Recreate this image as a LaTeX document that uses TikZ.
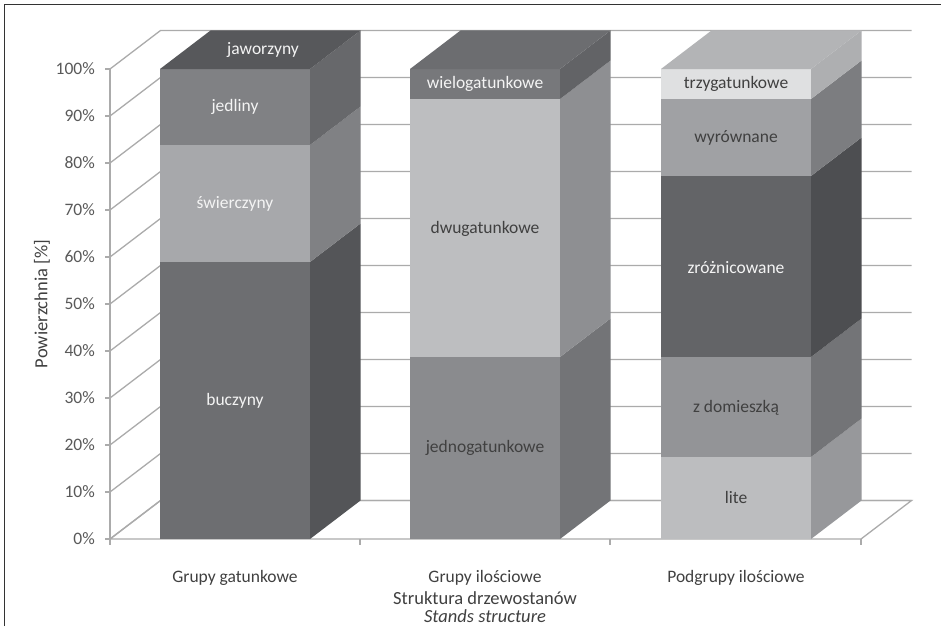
\documentclass[tikz,border=0pt]{standalone}
\usepackage{fontspec}
\setmainfont{Carlito}
\definecolor{gridc}{HTML}{ABABAB}
\definecolor{axtxt}{HTML}{595959}
\definecolor{darktxt}{HTML}{404040}
\definecolor{lighttxt}{HTML}{F4F4F4}
% bar 1
\definecolor{buczF}{HTML}{6D6E71}\definecolor{buczS}{HTML}{545558}
\definecolor{swieF}{HTML}{A7A8AB}\definecolor{swieS}{HTML}{808184}
\definecolor{jedlF}{HTML}{808184}\definecolor{jedlS}{HTML}{67686B}
\definecolor{jawoT}{HTML}{57585B}\definecolor{jawoS}{HTML}{5C5D60}
% bar 2
\definecolor{jednF}{HTML}{8A8B8E}\definecolor{jednS}{HTML}{737477}
\definecolor{dwugF}{HTML}{BDBEC0}\definecolor{dwugS}{HTML}{8E8F92}
\definecolor{wielF}{HTML}{77787B}\definecolor{wielS}{HTML}{626366}\definecolor{wielT}{HTML}{6C6D70}
% bar 3
\definecolor{liteF}{HTML}{BCBDBF}\definecolor{liteS}{HTML}{97989B}
\definecolor{zdomF}{HTML}{939497}\definecolor{zdomS}{HTML}{737477}
\definecolor{zrozF}{HTML}{636467}\definecolor{zrozS}{HTML}{4D4E51}
\definecolor{wyroF}{HTML}{A0A1A4}\definecolor{wyroS}{HTML}{7C7D80}
\definecolor{trzyF}{HTML}{DFE0E1}\definecolor{trzyS}{HTML}{AEAFB1}\definecolor{trzyT}{HTML}{B3B4B6}
% segment: #1 left x, #2 bottom y, #3 top y, #4 front colour, #5 side colour
\newcommand\barseg[5]{%
  \fill[#5] (#1+150,#2) -- (#1+200.5,#2-38.5) -- (#1+200.5,#3-38.5) -- (#1+150,#3) -- cycle;
  \fill[#4] (#1,#2) rectangle (#1+150,#3);}
% top face: #1 left x, #2 top y, #3 colour
\newcommand\bartop[3]{%
  \fill[#3] (#1,#2) -- (#1+50.5,#2-38.5) -- (#1+200.5,#2-38.5) -- (#1+150,#2) -- cycle;}
\begin{document}
\begin{tikzpicture}[x=1pt,y=-1pt,
  gridline/.style={draw=gridc,line width=1.3pt},
  lbl/.style={font=\fontsize{17.5}{20}\selectfont,inner sep=0pt},
  onlight/.style={lbl,text=darktxt},
  ondark/.style={lbl,text=lighttxt},
  ylab/.style={font=\fontsize{17.5}{20}\selectfont,text=axtxt,anchor=east,inner sep=0pt},
  catlab/.style={font=\fontsize{17.5}{20}\selectfont,text=darktxt,inner sep=0pt},
  titlab/.style={font=\fontsize{18.5}{21}\selectfont,text=darktxt,inner sep=0pt}]
\useasboundingbox (0,0) rectangle (941,626);
\fill[white] (0,0) rectangle (941,626);
\draw[line width=1.2pt,draw=black!80] (4.5,626) -- (4.5,4.5) -- (941,4.5);

% floor
\draw[gridline,fill=white] (110,539) -- (861,539) -- (911.5,500.5) -- (160.5,500.5) -- cycle;
% back wall gridlines with diagonals
\foreach \i in {0,...,10}{
  \pgfmathsetmacro\yy{539-47*\i}
  \draw[gridline] (110,\yy) -- (160.5,\yy-38.5) -- (911.5,\yy-38.5);
  \draw[gridline] (105,\yy) -- (110,\yy);
}
% front axis
\draw[gridline] (110,69) -- (110,539);
\foreach \xx in {110,360,610,861}{\draw[gridline] (\xx,539) -- (\xx,545);}

% y labels
\foreach \i in {0,...,10}{
  \pgfmathsetmacro\yy{539-47*\i}
  \pgfmathtruncatemacro\pc{10*\i}
  \node[ylab] (y\i) at (95,\yy) {\pc\%};
}

% ---- bar 1: Grupy gatunkowe
\barseg{160}{539}{262}{buczF}{buczS}
\barseg{160}{262}{145}{swieF}{swieS}
\barseg{160}{145}{69}{jedlF}{jedlS}
\bartop{160}{69}{jawoT}
% ---- bar 2: Grupy ilosciowe
\barseg{410}{539}{357}{jednF}{jednS}
\barseg{410}{357}{99}{dwugF}{dwugS}
\barseg{410}{99}{69}{wielF}{wielS}
\bartop{410}{69}{wielT}
% ---- bar 3: Podgrupy ilosciowe
\barseg{661}{539}{457}{liteF}{liteS}
\barseg{661}{457}{357}{zdomF}{zdomS}
\barseg{661}{357}{176}{zrozF}{zrozS}
\barseg{661}{176}{99}{wyroF}{wyroS}
\barseg{661}{99}{69}{trzyF}{trzyS}
\bartop{661}{69}{trzyT}

% segment labels
\node[ondark] (jaw) at (263,50) {jaworzyny};
\node[ondark] (jed) at (235,107) {jedliny};
\node[ondark] (swi) at (235,204) {świerczyny};
\node[ondark] (buc) at (235,401) {buczyny};
\node[ondark] (wie) at (485,84) {wielogatunkowe};
\node[onlight] (dwu) at (485,229) {dwugatunkowe};
\node[onlight] (jdn) at (485,448) {jednogatunkowe};
\node[onlight] (trz) at (736,84) {trzygatunkowe};
\node[onlight] (wyr) at (736,138) {wyrównane};
\node[ondark] (zro) at (736,268) {zróżnicowane};
\node[onlight] (zdo) at (736,408) {z domieszką};
\node[onlight] (lit) at (736,497) {lite};

% category labels
\node[catlab] (c1) at (235,578) {Grupy gatunkowe};
\node[catlab] (c2) at (485,578) {Grupy ilościowe};
\node[catlab] (c3) at (736,578) {Podgrupy ilościowe};

% axis titles
\node[titlab] (xt1) at (485,598) {Struktura drzewostanów};
\node[titlab] (xt2) at (485,616) {\itshape Stands structure};
\node[titlab,rotate=90] (yt) at (42,304) {Powierzchnia [\%]};
\end{tikzpicture}
\end{document}
